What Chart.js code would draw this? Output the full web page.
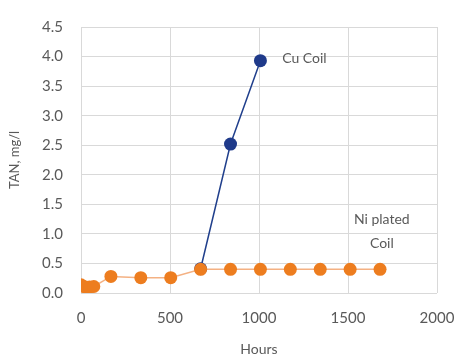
<!DOCTYPE html>
<html>
<head>
<meta charset="utf-8">
<style>
  html, body { margin: 0; padding: 0; background: #fff; }
  #wrap { width: 459px; height: 358px; }
</style>
</head>
<body>
<div id="wrap"><canvas id="tan-chart" width="459" height="358"></canvas></div>
<script src="https://cdn.jsdelivr.net/npm/chart.js@4.4.1/dist/chart.umd.min.js"></script>
<script>
    // hours / TAN readings
    var ni_hours = [0, 4, 24, 48, 72, 168, 336, 504, 672, 840, 1008, 1176, 1344, 1512, 1680];
    var ni_tan   = [0.14, 0.12, 0.1, 0.1, 0.11, 0.28, 0.26, 0.26, 0.4, 0.4, 0.4, 0.4, 0.4, 0.4, 0.4];
    var cu_hours = [672, 840, 1008];
    var cu_tan   = [0.41, 2.52, 3.93];

    var labels_text = [
        { x: 1130, y: 3.96, lines: ["Cu Coil"], align: "left" },
        { x: 1690, y: 1.24, lines: ["Ni plated", "Coil"], align: "center" }
    ];

    var grey = "#595959";
    var font_family = "Lato, 'Open Sans', sans-serif";

    function pts(xs, ys) {
        var out = [];
        for (var i = 0; i < xs.length; i++) out.push({ x: xs[i], y: ys[i] });
        return out;
    }

    var textPlugin = {
        id: "textlabels",
        afterDatasetsDraw: function (chart) {
            var ctx = chart.ctx;
            var xs = chart.scales.x, ys = chart.scales.y;
            ctx.save();
            ctx.fillStyle = grey;
            ctx.font = "14px " + font_family;
            ctx.textBaseline = "middle";
            labels_text.forEach(function (t) {
                ctx.textAlign = t.align;
                var px = xs.getPixelForValue(t.x);
                var py = ys.getPixelForValue(t.y);
                for (var i = 0; i < t.lines.length; i++) {
                    ctx.fillText(t.lines[i], px, py + i * 24);
                }
            });
            ctx.restore();
        }
    };

    new Chart(document.getElementById("tan-chart"), {
        type: "scatter",
        data: {
            datasets: [{
                label: "Ni plated Coil",
                data: pts(ni_hours, ni_tan),
                showLine: true,
                borderColor: "#f4b183",
                backgroundColor: "#ed7d1f",
                borderWidth: 1.5,
                pointRadius: 6.5,
                pointBorderWidth: 0
            }, {
                label: "Cu Coil",
                data: pts(cu_hours, cu_tan),
                showLine: true,
                borderColor: "#203f8c",
                backgroundColor: "#1f3a8a",
                borderWidth: 1.5,
                pointRadius: 6.5,
                pointBorderWidth: 0
            }]
        },
        options: {
            responsive: false,
            animation: false,
            layout: { padding: { top: 21, right: 22, left: 0, bottom: 0 } },
            plugins: {
                legend: { display: false },
                tooltip: { enabled: false }
            },
            scales: {
                x: {
                    type: "linear",
                    min: 0, max: 2000,
                    ticks: {
                        stepSize: 500, color: grey, font: { size: 15, family: font_family }, padding: 2,
                        callback: function (v) { return String(v); }
                    },
                    grid: { color: "#d9d9d9", drawTicks: true, tickLength: 14, tickColor: "rgba(0,0,0,0)" },
                    border: { display: false },
                    title: { display: true, text: "Hours", color: grey, font: { size: 14, family: font_family }, padding: { top: 4, bottom: 0 } },
                    afterFit: function (s) { s.height = 65; }
                },
                y: {
                    min: 0, max: 4.5,
                    ticks: {
                        stepSize: 0.5, color: grey, font: { size: 15, family: font_family }, padding: 18,
                        callback: function (v) { return v.toFixed(1); }
                    },
                    grid: { color: "#d9d9d9", drawTicks: false },
                    border: { display: false },
                    title: { display: true, text: "TAN, mg/l", color: grey, font: { size: 13, family: font_family }, padding: { top: 7, bottom: 0 } },
                    afterFit: function (s) { s.width = 81; }
                }
            }
        },
        plugins: [textPlugin]
    });
</script>
</body>
</html>
